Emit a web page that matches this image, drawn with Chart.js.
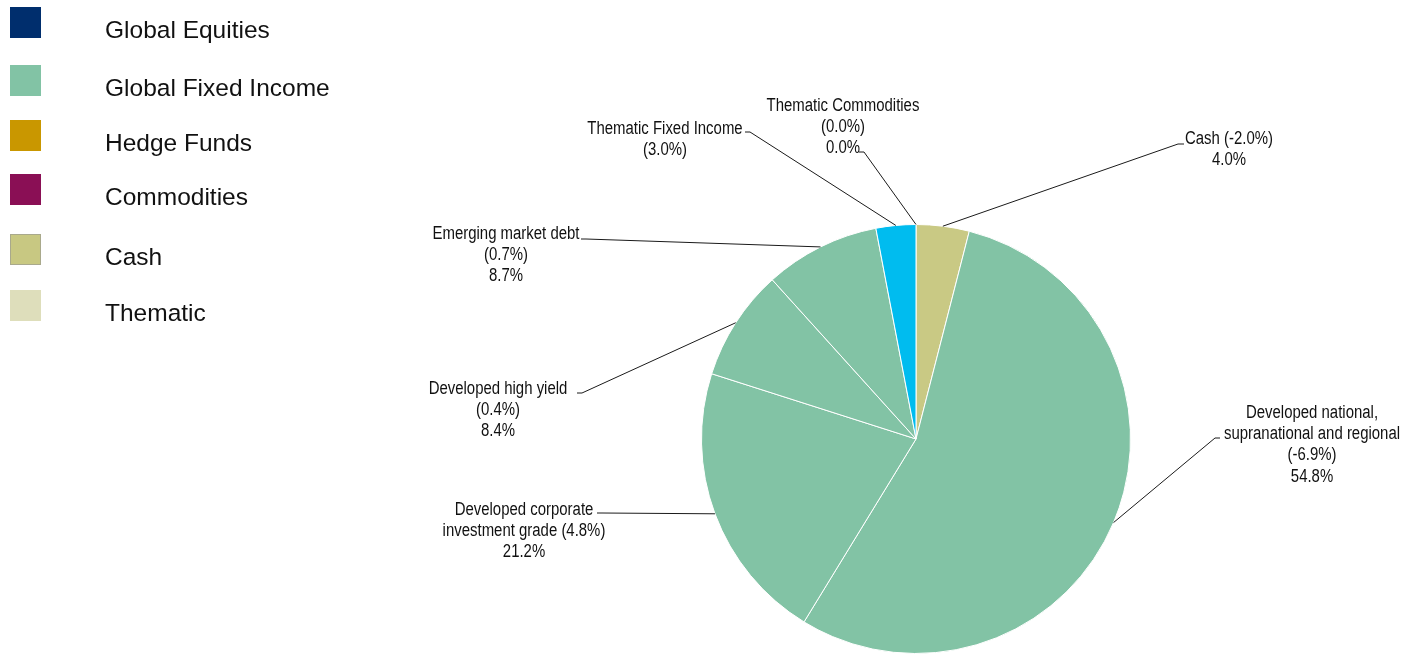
<!DOCTYPE html>
<html>
<head>
<meta charset="utf-8">
<script src="https://cdn.jsdelivr.net/npm/chart.js@4.4.0/dist/chart.umd.min.js"></script>
<style>
  html, body { margin: 0; padding: 0; background: #fff; }
  #wrap { position: relative; width: 1420px; height: 654px; }
</style>
</head>
<body>
<div id="wrap"><canvas id="pie"></canvas></div>
<script>
// Slices, clockwise from 12 o'clock
const sliceNames = ['Cash', 'Developed national, supranational and regional', 'Developed corporate investment grade',
  'Developed high yield', 'Emerging market debt', 'Thematic Fixed Income', 'Thematic Commodities'];
const sliceValues = [4.0, 54.8, 21.2, 8.4, 8.7, 3.0, 0.0];
const sliceChanges = [-2.0, -6.9, 4.8, 0.4, 0.7, 3.0, 0.0];
const sliceColors = ['#C9C984', '#82C3A5', '#82C3A5', '#82C3A5', '#82C3A5', '#00BCEF', '#DEDEBB'];

// Asset class key
const legendNames = ['Global Equities', 'Global Fixed Income', 'Hedge Funds', 'Commodities', 'Cash', 'Thematic'];
const legendColors = ['#002E6D', '#82C3A5', '#C99700', '#8A0F55', '#C8C882', '#DEDEBB'];

// how each slice label wraps
const labelNameLines = [
  ['Cash'],
  ['Developed national,', 'supranational and regional'],
  ['Developed corporate', 'investment grade'],
  ['Developed high yield'],
  ['Emerging market debt'],
  ['Thematic Fixed Income'],
  ['Thematic Commodities']
];

// label placement, offsets from the pie centre (px)
const labelLayout = [
  { elbow: [262, -295], tail: 6, text: [313, -300], inline: true },
  { elbow: [299, -1], tail: 5, text: [396, -26] },
  { elbow: [-314, 74], tail: -5, text: [-392, 71], inline: true },
  { elbow: [-334, -46], tail: -5, text: [-418, -50] },
  { elbow: [-330, -200], tail: -5, text: [-410, -205] },
  { elbow: [-166, -307], tail: -5, text: [-251, -310], hideValue: true },
  { elbow: [-52, -287], tail: -5, text: [-73, -333] }
];
const legendRowY = [31, 89, 144, 198, 258, 314];

// no narrow face installed, so the label font gets squeezed horizontally
const labelFont = '18px "Liberation Sans", Arial, sans-serif';
const labelSqueeze = 0.83;
const legendFont = '24.5px "Liberation Sans", Arial, sans-serif';

function pct(v) { return v.toFixed(1) + '%'; }

function labelLines(i) {
  const lay = labelLayout[i];
  const lines = labelNameLines[i].slice();
  const change = '(' + pct(sliceChanges[i]) + ')';
  if (lay.inline) {
    lines[lines.length - 1] += ' ' + change;
  } else {
    lines.push(change);
  }
  if (!lay.hideValue) lines.push(pct(sliceValues[i]));
  return lines;
}

const keyPlugin = {
  id: 'assetKey',
  afterDraw(chart) {
    const ctx = chart.ctx;
    ctx.save();
    legendNames.forEach((name, i) => {
      const y = legendRowY[i];
      ctx.fillStyle = legendColors[i];
      ctx.fillRect(10, y - 24, 31, 31);
      if (name === 'Cash') {
        ctx.strokeStyle = '#A9A98C';
        ctx.lineWidth = 1;
        ctx.strokeRect(10.5, y - 23.5, 30, 30);
      }
      ctx.fillStyle = '#111';
      ctx.font = legendFont;
      ctx.textAlign = 'left';
      ctx.textBaseline = 'middle';
      ctx.fillText(name, 105, y);
    });
    ctx.restore();
  }
};

const leaderPlugin = {
  id: 'leaderLabels',
  afterDatasetsDraw(chart) {
    const ctx = chart.ctx;
    const arcs = chart.getDatasetMeta(0).data;
    ctx.save();
    arcs.forEach((arc, i) => {
      const { x, y, startAngle, endAngle, outerRadius } = arc.getProps(['x', 'y', 'startAngle', 'endAngle', 'outerRadius'], true);
      const mid = (startAngle + endAngle) / 2;
      const px = x + Math.cos(mid) * outerRadius;
      const py = y + Math.sin(mid) * outerRadius;
      const lay = labelLayout[i];
      const ex = x + lay.elbow[0];
      const ey = y + lay.elbow[1];

      ctx.strokeStyle = '#1a1a1a';
      ctx.lineWidth = 1;
      ctx.beginPath();
      ctx.moveTo(px, py);
      ctx.lineTo(ex, ey);
      ctx.lineTo(ex + lay.tail, ey);
      ctx.stroke();

      ctx.fillStyle = '#111';
      ctx.font = labelFont;
      ctx.textAlign = 'center';
      ctx.textBaseline = 'middle';
      labelLines(i).forEach((line, k) => {
        ctx.save();
        ctx.translate(x + lay.text[0], y + lay.text[1] + k * 21.2);
        ctx.scale(labelSqueeze, 1);
        ctx.fillText(line, 0, 0);
        ctx.restore();
      });
    });
    ctx.restore();
  }
};

new Chart(document.getElementById('pie'), {
  type: 'pie',
  data: {
    labels: sliceNames,
    datasets: [{
      data: sliceValues,
      backgroundColor: sliceColors,
      borderColor: '#ffffff',
      borderWidth: 1
    }]
  },
  options: {
    responsive: true,
    maintainAspectRatio: false,
    animation: false,
    events: [],
    layout: { padding: { top: 224, bottom: 0, left: 701, right: 289 } },
    plugins: {
      legend: { display: false },
      tooltip: { enabled: false }
    }
  },
  plugins: [keyPlugin, leaderPlugin]
});
</script>
</body>
</html>
